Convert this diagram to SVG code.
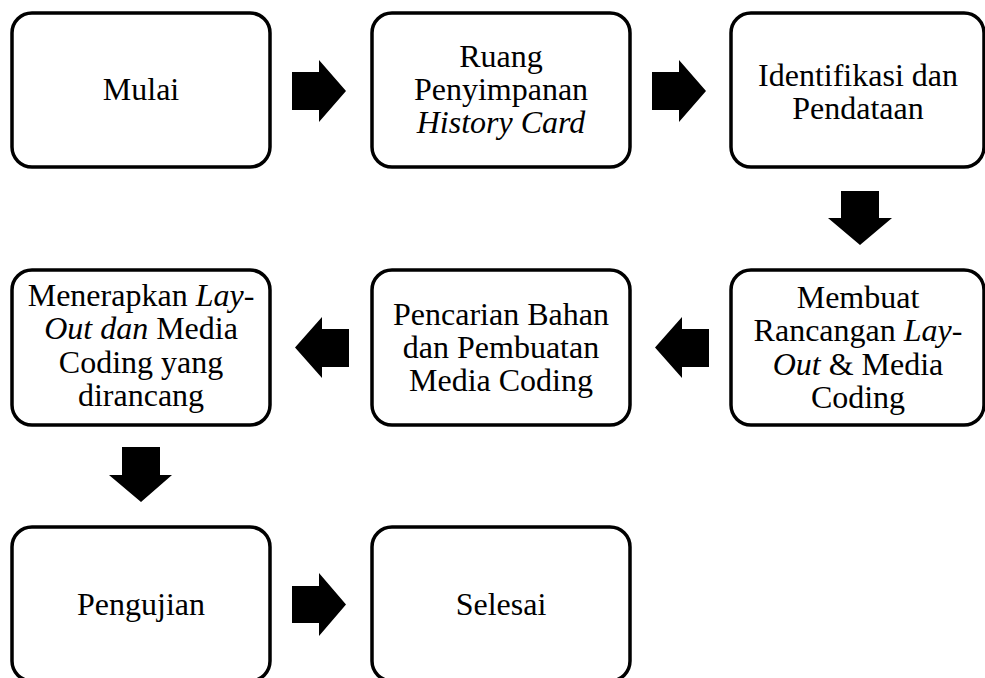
<svg xmlns="http://www.w3.org/2000/svg" width="985" height="678" viewBox="0 0 985 678">
<style>
.box{fill:#fff;stroke:#000;stroke-width:3.5}
.lbl{font-family:"Liberation Serif","Times New Roman",serif;font-size:32px;fill:#000;text-anchor:middle}
.it{font-style:italic}
.arr{fill:#000;stroke:none}
</style>
<rect width="985" height="678" fill="#fff"/>
<g id="connectors">
<polygon class="arr" points="292,72 319,72 319,60 346,91 319,122 319,110 292,110"/>
<polygon class="arr" points="652,72 679,72 679,60 706,91 679,122 679,110 652,110"/>
<polygon class="arr" points="841,191 879,191 879,218 892,218 860,245 828,218 841,218"/>
<polygon class="arr" points="709,329 682,329 682,317 655,347.5 682,378 682,367 709,367"/>
<polygon class="arr" points="349,329 322,329 322,317 295,347.5 322,378 322,367 349,367"/>
<polygon class="arr" points="122,447 160,447 160,475 172,475 141,502 109,475 122,475"/>
<polygon class="arr" points="292,586 319,586 319,573 346,604.5 319,636 319,623 292,623"/>
</g>
<g id="n1"><rect class="box" x="12" y="13" width="258" height="154" rx="20"/><text class="lbl" x="141" y="100">Mulai</text></g>
<g id="n2"><rect class="box" x="372" y="13" width="258" height="154" rx="20"/>
<text class="lbl" x="501" y="66.7">Ruang</text>
<text class="lbl" x="501" y="100">Penyimpanan</text>
<text class="lbl it" x="501" y="133.3">History Card</text></g>
<g id="n3"><rect class="box" x="731" y="13" width="253" height="154" rx="20"/>
<text class="lbl" x="858" y="85.5">Identifikasi dan</text>
<text class="lbl" x="858" y="118.5">Pendataan</text></g>
<g id="n4"><rect class="box" x="731" y="270" width="253" height="155" rx="20"/>
<text class="lbl" x="858" y="308">Membuat</text>
<text class="lbl" x="858" y="341.3">Rancangan <tspan class="it">Lay</tspan>-</text>
<text class="lbl" x="858" y="374.6"><tspan class="it">Out</tspan> &amp; Media</text>
<text class="lbl" x="858" y="408">Coding</text></g>
<g id="n5"><rect class="box" x="372" y="270" width="258" height="155" rx="20"/>
<text class="lbl" x="501" y="324.7">Pencarian Bahan</text>
<text class="lbl" x="501" y="358">dan Pembuatan</text>
<text class="lbl" x="501" y="391.3">Media Coding</text></g>
<g id="n6"><rect class="box" x="12" y="270" width="258" height="155" rx="20"/>
<text class="lbl" x="141" y="306">Menerapkan <tspan class="it">Lay</tspan>-</text>
<text class="lbl" x="141" y="339.3"><tspan class="it">Out dan</tspan> Media</text>
<text class="lbl" x="141" y="372.6">Coding yang</text>
<text class="lbl" x="141" y="406">dirancang</text></g>
<g id="n7"><rect class="box" x="12" y="527" width="258" height="154" rx="20"/><text class="lbl" x="141" y="614.5">Pengujian</text></g>
<g id="n8"><rect class="box" x="372" y="527" width="258" height="154" rx="20"/><text class="lbl" x="501" y="614.5">Selesai</text></g>
</svg>
